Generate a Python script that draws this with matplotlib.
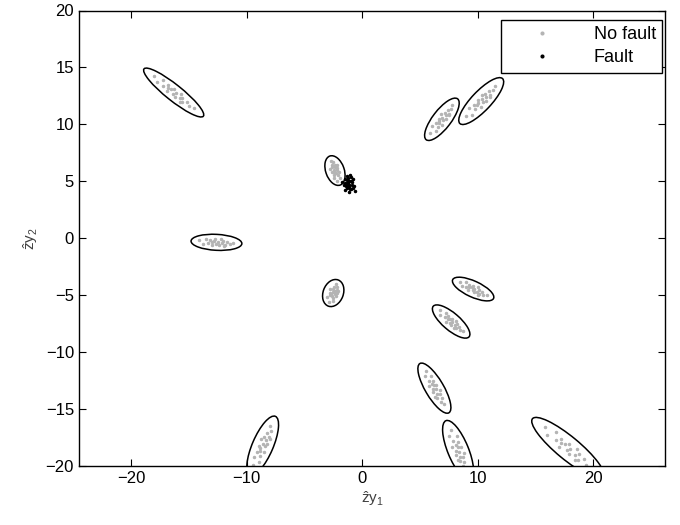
import matplotlib
matplotlib.use('Agg')
import matplotlib.pyplot as plt
from matplotlib.patches import Ellipse

plt.rcParams['font.family'] = ['Liberation Sans', 'DejaVu Sans']
plt.rcParams['mathtext.fontset'] = 'custom'
plt.rcParams['mathtext.rm'] = 'Liberation Sans'
plt.rcParams['mathtext.it'] = 'Liberation Sans'

# confidence ellipses of the no-fault clusters: centre x, centre y, major, minor, angle (deg)
ell_x = [-16.3, 6.9, 10.3, -2.35, -12.6, -2.5, 9.6, 7.7, 6.25, 8.3, -8.6, 17.8]
ell_y = [12.8, 10.45, 12.05, 5.95, -0.35, -4.8, -4.45, -7.3, -13.15, -18.6, -18.2, -18.4]
ell_w = [6.6, 4.5, 5.4, 2.7, 4.4, 2.45, 3.9, 4.1, 5.0, 5.6, 5.6, 8.0]
ell_h = [1.4, 1.6, 1.7, 1.6, 1.4, 1.75, 1.4, 1.5, 1.6, 1.8, 1.8, 2.0]
ell_a = [-39, 53, 47, 109, -3, 70, -25, -41, -60, -68, 67, -40]

# no-fault samples (cluster by cluster)
nofault_x = [
    -17.99, -17.77, -17.22, -17.19, -16.80, -16.88, -16.51, -16.28, -16.38, -16.14,
    -16.18, -15.70, -15.79, -15.54, -15.54, -15.15, -15.01, -14.57, -16.78, -15.73,
    5.90, 6.35, 6.08, 6.54, 6.42, 6.92, 6.68, 6.62, 7.02, 6.93,
    7.24, 6.85, 7.23, 7.14, 7.52, 7.39, 7.69, 7.75, 6.65, 7.53,
    8.96, 9.49, 9.28, 9.78, 9.70, 10.24, 10.03, 9.99, 10.42, 10.35,
    10.69, 10.33, 10.74, 10.67, 11.09, 11.01, 11.35, 11.48, 9.95, 11.07,
    -2.15, -1.93, -2.45, -2.11, -2.44, -1.99, -2.40, -2.58, -2.21, -2.42,
    -2.15, -2.74, -2.39, -2.61, -2.31, -2.63, -2.48, -2.69, -2.27, -2.19,
    -14.09, -13.77, -13.52, -13.32, -13.12, -12.97, -12.82, -12.70, -12.61, -12.49,
    -12.39, -12.23, -12.13, -12.01, -11.86, -11.66, -11.44, -11.14, -13.01, -11.98,
    -2.89, -2.51, -3.00, -2.53, -2.81, -2.25, -2.65, -2.80, -2.35, -2.53,
    -2.19, -2.78, -2.35, -2.54, -2.15, -2.43, -2.17, -2.28, -2.58, -2.06,
    8.44, 8.60, 8.96, 8.99, 9.26, 9.20, 9.46, 9.61, 9.55, 9.71,
    9.69, 10.01, 9.96, 10.12, 10.13, 10.39, 10.49, 10.79, 9.27, 10.00,
    6.72, 6.76, 7.23, 7.14, 7.46, 7.26, 7.61, 7.79, 7.61, 7.81,
    7.70, 8.16, 7.99, 8.20, 8.10, 8.42, 8.45, 8.76, 7.41, 7.96,
    5.49, 5.42, 5.99, 5.76, 6.13, 5.78, 6.21, 6.42, 6.12, 6.36,
    6.15, 6.75, 6.47, 6.71, 6.50, 6.87, 6.82, 7.12, 6.02, 6.34,
    7.70, 7.54, 8.18, 7.86, 8.26, 7.81, 8.30, 8.53, 8.14, 8.41,
    8.14, 8.82, 8.47, 8.73, 8.44, 8.85, 8.75, 9.05, 8.10, 8.28,
    -9.45, -8.96, -9.39, -8.85, -9.07, -8.46, -8.82, -8.94, -8.44, -8.60,
    -8.22, -8.78, -8.31, -8.47, -8.02, -8.24, -7.92, -7.93, -8.81, -7.96,
    15.80, 16.02, 16.75, 16.73, 17.24, 17.06, 17.57, 17.86, 17.68, 18.00,
    17.90, 18.57, 18.41, 18.73, 18.68, 19.18, 19.33, 19.87, 17.23, 18.44,
]
nofault_y = [
    14.28, 13.75, 13.89, 13.40, 13.43, 12.92, 13.08, 13.09, 12.70, 12.73,
    12.41, 12.70, 12.32, 12.36, 11.96, 11.99, 11.64, 11.46, 13.19, 11.99,
    9.29, 9.38, 9.87, 9.81, 10.15, 9.97, 10.33, 10.52, 10.36, 10.58,
    10.48, 10.95, 10.80, 11.01, 10.94, 11.28, 11.34, 11.68, 10.11, 10.79,
    10.78, 10.86, 11.43, 11.34, 11.73, 11.51, 11.92, 12.15, 11.94, 12.19,
    12.07, 12.61, 12.43, 12.68, 12.58, 12.96, 13.02, 13.40, 11.68, 12.40,
    5.05, 5.34, 5.31, 5.57, 5.58, 5.84, 5.79, 5.80, 6.00, 6.00,
    6.17, 6.05, 6.24, 6.24, 6.45, 6.46, 6.66, 6.78, 5.71, 6.42,
    -0.18, -0.47, -0.03, -0.40, -0.14, -0.60, -0.25, -0.10, -0.48, -0.31,
    -0.59, -0.07, -0.42, -0.25, -0.57, -0.31, -0.50, -0.38, -0.33, -0.65,
    -5.55, -5.49, -5.17, -5.21, -5.00, -5.10, -4.88, -4.76, -4.86, -4.72,
    -4.78, -4.48, -4.58, -4.44, -4.49, -4.27, -4.23, -4.02, -5.02, -4.58,
    -3.81, -4.18, -3.86, -4.27, -4.09, -4.56, -4.29, -4.19, -4.57, -4.45,
    -4.74, -4.31, -4.67, -4.55, -4.89, -4.72, -4.97, -4.95, -4.30, -4.93,
    -6.32, -6.74, -6.51, -6.94, -6.84, -7.30, -7.09, -7.04, -7.41, -7.33,
    -7.62, -7.28, -7.62, -7.55, -7.90, -7.80, -8.08, -8.15, -7.05, -7.90,
    -11.63, -12.11, -12.08, -12.50, -12.53, -12.95, -12.88, -12.90, -13.23, -13.23,
    -13.50, -13.33, -13.64, -13.65, -13.99, -14.02, -14.34, -14.56, -12.75, -13.93,
    -16.79, -17.32, -17.36, -17.80, -17.89, -18.31, -18.29, -18.35, -18.66, -18.71,
    -18.98, -18.88, -19.18, -19.22, -19.57, -19.66, -20.01, -20.30, -18.11, -19.48,
    -19.91, -19.65, -19.16, -19.08, -18.72, -18.75, -18.42, -18.21, -18.27, -18.05,
    -18.05, -17.63, -17.68, -17.46, -17.41, -17.06, -16.89, -16.47, -18.68, -17.59,
    -16.55, -17.24, -17.01, -17.67, -17.59, -18.28, -18.04, -18.01, -18.54, -18.48,
    -18.91, -18.49, -19.00, -18.94, -19.47, -19.40, -19.86, -20.06, -17.92, -19.44,
]

# fault samples
fault_x = [-1.2, -1.0, -1.4, -1.1, -1.3, -0.9, -1.5, -1.2, -1.05, -1.35,
           -0.8, -1.25, -1.15, -0.95, -1.45, -1.6, -0.7, -1.3, -1.1, -1.0,
           -1.2, -0.85, -1.5, -1.25, -0.6, -1.7, -1.05, -1.35, -0.75, -1.15]
fault_y = [4.8, 5.0, 4.6, 4.5, 5.1, 4.7, 4.9, 5.3, 4.3, 4.4,
           5.2, 4.9, 4.65, 4.35, 5.2, 4.7, 4.6, 5.5, 4.1, 5.4,
           4.75, 4.95, 4.25, 4.55, 4.2, 4.95, 5.6, 4.85, 4.45, 5.05]

fig = plt.figure(figsize=(6.8, 5.25), dpi=100)
ax = fig.add_axes([0.116, 0.112, 0.862, 0.868])

ax.plot(nofault_x, nofault_y, '.', color='#b4b4b4', markersize=3, label='No fault')
ax.plot(fault_x, fault_y, '.', color='black', markersize=3, label='Fault')

for cx, cy, w, h, a in zip(ell_x, ell_y, ell_w, ell_h, ell_a):
    ax.add_patch(Ellipse((cx, cy), w, h, angle=a, fill=False,
                         edgecolor='black', linewidth=1.1))

ax.set_xlim(-24.5, 26.2)
ax.set_ylim(-20, 20)
ax.set_xticks([-20, -10, 0, 10, 20])
ax.set_yticks([-20, -15, -10, -5, 0, 5, 10, 15, 20])
ax.tick_params(direction='in', top=True, right=True, length=5, labelsize=12)
for s in ax.spines.values():
    s.set_linewidth(1)

ax.set_xlabel(r'$\mathrm{\hat{z}y_1}$', fontsize=11, color='#404040', labelpad=2)
ax.set_ylabel(r'$\mathrm{\hat{z}y_2}$', fontsize=11, color='#404040')

leg = ax.legend(loc='upper right', bbox_to_anchor=(0.995, 0.98), borderaxespad=0,
                fontsize=13, frameon=True, fancybox=False, edgecolor='black',
                framealpha=1, handlelength=3.9, borderpad=0.35,
                labelspacing=0.35, handletextpad=0.9, markerscale=1.3)
leg.get_frame().set_linewidth(1)

fig.savefig('out.png', dpi=100)
